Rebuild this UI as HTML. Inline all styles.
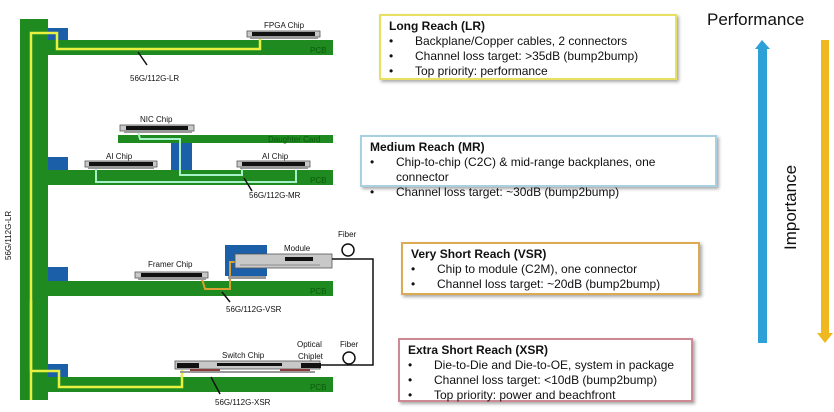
<!DOCTYPE html>
<html><head><meta charset="utf-8"><style>
body{margin:0;background:#fff;width:834px;height:412px;overflow:hidden;font-family:"Liberation Sans",sans-serif;}
.box{position:absolute;background:#fff;font-size:12px;line-height:15px;color:#111;padding:3px 8px;box-sizing:border-box;box-shadow:2px 2px 3px #aaa;}
.box b{display:block}
.box div{position:relative;padding-left:26px}
.box div:before{content:"•";position:absolute;left:0}
</style></head><body>
<svg width="834" height="412" style="position:absolute;left:0;top:0" font-family="Liberation Sans,sans-serif">
<!-- backplane -->
<rect x="20" y="19" width="28" height="381" fill="#1f8a1f"/>
<!-- PCBs -->
<rect x="48" y="40" width="285" height="15" fill="#1f8a1f"/>
<rect x="48" y="170" width="285" height="15" fill="#1f8a1f"/>
<rect x="48" y="281" width="285" height="15" fill="#1f8a1f"/>
<rect x="48" y="377" width="285" height="15" fill="#1f8a1f"/>
<rect x="118" y="135" width="215" height="8" fill="#1f8a1f"/>
<g font-size="8" fill="#0b5a0b"><text x="310" y="53">PCB</text><text x="310" y="183">PCB</text><text x="310" y="294">PCB</text><text x="310" y="390">PCB</text><text x="268" y="142">Daughter Card</text></g>
<!-- connectors -->
<g fill="#1a5fa8"><rect x="48" y="28" width="20" height="12"/><rect x="48" y="157" width="20" height="13"/><rect x="48" y="267" width="20" height="14"/><rect x="48" y="364" width="20" height="13"/><rect x="171" y="143" width="21" height="27"/><rect x="225" y="245" width="42" height="31"/></g>
<!-- LR trace -->
<polyline points="31,400 31,33 57,33 57,49 260,49 260,38" fill="none" stroke="#e8f040" stroke-width="2.5"/>
<polyline points="31,300 31,371 59,371 59,387 182,387 182,370" fill="none" stroke="#e8f040" stroke-width="2.5"/>
<!-- MR trace -->
<polyline points="138,132 140,139 180,139 180,175 242,175 242,168" fill="none" stroke="#a8f0c8" stroke-width="2"/>
<polyline points="96,168 96,182 296,182 296,170" fill="none" stroke="#a8f0c8" stroke-width="2"/>
<!-- VSR trace -->
<polyline points="202,279 205,289 230,289 230,262 290,262" fill="none" stroke="#d8a030" stroke-width="2"/>
<!-- chips -->
<g fill="#c8c8c8" stroke="#555" stroke-width="0.8">
<rect x="247" y="31" width="73" height="6"/><rect x="120" y="125" width="74" height="6"/>
<rect x="85" y="161" width="72" height="6"/><rect x="237" y="161" width="73" height="6"/>
<rect x="135" y="272" width="73" height="6"/><rect x="235" y="254" width="97" height="14"/>
<rect x="175" y="361" width="145" height="8"/></g>
<g fill="#111"><rect x="252" y="32" width="63" height="4"/><rect x="126" y="126" width="62" height="4"/><rect x="89" y="162" width="64" height="4"/><rect x="242" y="162" width="63" height="4"/><rect x="141" y="273" width="61" height="4"/><rect x="285" y="257" width="28" height="4"/>
<rect x="177" y="363" width="22" height="5"/><rect x="217" y="363" width="65" height="3"/><rect x="301" y="363" width="20" height="5"/></g>
<rect x="240" y="264" width="80" height="2" fill="#aaa"/>
<g fill="#8c3a3a"><rect x="190" y="369" width="30" height="3"/><rect x="280" y="369" width="30" height="3"/></g>
<g fill="#999"><rect x="250" y="37" width="68" height="2"/><rect x="124" y="131" width="68" height="2"/><rect x="88" y="167" width="66" height="2"/><rect x="240" y="167" width="68" height="2"/><rect x="138" y="278" width="68" height="2"/><rect x="228" y="276" width="38" height="3"/><rect x="180" y="371" width="135" height="2"/></g>
<!-- fiber -->
<circle cx="348" cy="250" r="6" fill="none" stroke="#111" stroke-width="1.5"/>
<circle cx="349" cy="358" r="6" fill="none" stroke="#111" stroke-width="1.5"/>
<polyline points="332,259 373,259 373,365 321,365" fill="none" stroke="#111" stroke-width="1.5"/>
<!-- labels -->
<g font-size="8" fill="#111">
<text x="264" y="28">FPGA Chip</text><text x="140" y="122">NIC Chip</text><text x="106" y="159">AI Chip</text><text x="262" y="159">AI Chip</text>
<text x="148" y="267">Framer  Chip</text><text x="284" y="251">Module</text><text x="338" y="237">Fiber</text><text x="340" y="347">Fiber</text>
<text x="222" y="358">Switch Chip</text><text x="297" y="347">Optical</text><text x="298" y="359">Chiplet</text>
<text x="130" y="81">56G/112G-LR</text><text x="249" y="198">56G/112G-MR</text><text x="226" y="312">56G/112G-VSR</text><text x="215" y="405">56G/112G-XSR</text>
<text transform="translate(11,260) rotate(-90)">56G/112G-LR</text></g>
<g stroke="#111" stroke-width="1.5"><line x1="147" y1="65" x2="138" y2="52"/><line x1="252" y1="191" x2="244" y2="178"/><line x1="230" y1="302" x2="222" y2="292"/><line x1="220" y1="394" x2="211" y2="377"/></g>
<!-- arrows -->
<text x="707" y="25" font-size="17" fill="#111">Performance</text>
<rect x="758" y="48" width="9" height="295" fill="#2ea0d8"/>
<polygon points="755,49 762,40 770,49" fill="#2ea0d8"/>
<rect x="821" y="40" width="8" height="294" fill="#f0b820"/>
<polygon points="817,333 825,343 833,333" fill="#f0b820"/>
<text transform="translate(796,250) rotate(-90)" font-size="17" fill="#111">Importance</text>
</svg>
<div class="box" style="left:379px;top:14px;width:298px;height:66px;border:2px solid #e8e060"><b>Long Reach (LR)</b><div>Backplane/Copper cables, 2 connectors</div><div>Channel loss target: &gt;35dB (bump2bump)</div><div>Top priority: performance</div></div>
<div class="box" style="left:360px;top:135px;width:357px;height:52px;border:2px solid #a8d0e0"><b>Medium Reach (MR)</b><div>Chip-to-chip (C2C) &amp; mid-range backplanes, one connector</div><div>Channel loss target: ~30dB (bump2bump)</div></div>
<div class="box" style="left:401px;top:242px;width:299px;height:53px;border:2px solid #dcaa50"><b>Very Short Reach (VSR)</b><div>Chip to module (C2M), one connector</div><div>Channel loss target: ~20dB (bump2bump)</div></div>
<div class="box" style="left:398px;top:338px;width:295px;height:64px;border:2px solid #cc8a94"><b>Extra Short Reach (XSR)</b><div>Die-to-Die and Die-to-OE, system in package</div><div>Channel loss target: &lt;10dB (bump2bump)</div><div>Top priority: power and beachfront</div></div>
</body></html>
